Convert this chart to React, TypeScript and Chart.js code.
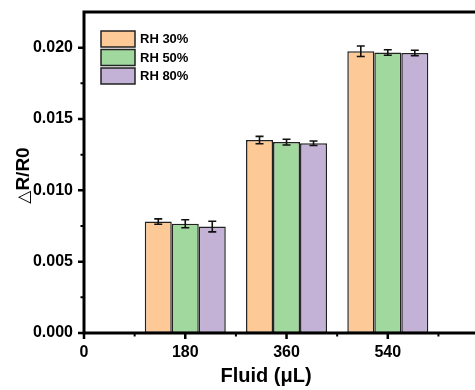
import { useEffect, useRef } from 'react';
import { Chart, registerables } from 'chart.js';

Chart.register(...registerables);

const fluidVolumes = [180, 360, 540];
const seriesLabels = ['RH 30%', 'RH 50%', 'RH 80%'];
const rh30 = [0.00781, 0.01352, 0.01975];
const rh50 = [0.00766, 0.01338, 0.01966];
const rh80 = [0.00746, 0.0133, 0.01963];
const rh30Err = [0.00019, 0.00026, 0.00037];
const rh50Err = [0.00028, 0.0002, 0.00019];
const rh80Err = [0.00037, 0.00016, 0.00019];
const xTicks = [0, 180, 360, 540];
const yTicks = [0, 0.005, 0.01, 0.015, 0.02];
const xTitle = 'Fluid (μL)';
const yTitleSymbol = '△';
const yTitleText = 'R/R0';

const seriesValues = [rh30, rh50, rh80];
const seriesErrors = [rh30Err, rh50Err, rh80Err];
const seriesColors = ['#FCC997', '#A0D89E', '#C3B2D6'];

const FONT = "'Liberation Sans', Arial, sans-serif";

const framePlugin = {
  id: 'frame',
  afterDatasetsDraw(chart: any) {
    const ctx = chart.ctx;
    const ys = chart.scales.y;
    ctx.save();
    ctx.strokeStyle = '#111';
    ctx.lineWidth = 1.6;
    chart.data.datasets.forEach((ds: any, i: number) => {
      const meta = chart.getDatasetMeta(i);
      meta.data.forEach((bar: any, j: number) => {
        const v = seriesValues[i][j];
        const e = seriesErrors[i][j];
        const yt = ys.getPixelForValue(v + e);
        const yb = ys.getPixelForValue(v - e);
        const x = bar.x;
        ctx.beginPath();
        ctx.moveTo(x, yt);
        ctx.lineTo(x, yb);
        ctx.moveTo(x - 4, yt);
        ctx.lineTo(x + 4, yt);
        ctx.moveTo(x - 4, yb);
        ctx.lineTo(x + 4, yb);
        ctx.stroke();
      });
    });
    ctx.restore();
  },
  afterDraw(chart: any) {
    const ctx = chart.ctx;
    const a = chart.chartArea;
    const xs = chart.scales.x;
    const ys = chart.scales.y;
    ctx.save();
    ctx.strokeStyle = '#000';
    ctx.lineCap = 'butt';
    // frame lines
    ctx.lineWidth = 3;
    ctx.beginPath();
    ctx.moveTo(a.left, a.top);
    ctx.lineTo(a.right, a.top);
    ctx.moveTo(a.left, a.top - 1.5);
    ctx.lineTo(a.left, a.bottom + 1.5);
    ctx.moveTo(a.left - 1.5, a.bottom);
    ctx.lineTo(a.right, a.bottom);
    ctx.stroke();
    // major ticks
    ctx.lineWidth = 2.5;
    ctx.beginPath();
    xTicks.forEach((v) => {
      const x = xs.getPixelForValue(v);
      ctx.moveTo(x, a.bottom);
      ctx.lineTo(x, a.bottom + 6);
    });
    yTicks.forEach((v) => {
      const y = ys.getPixelForValue(v);
      ctx.moveTo(a.left, y);
      ctx.lineTo(a.left - 6, y);
    });
    ctx.stroke();
    // minor ticks
    ctx.lineWidth = 2;
    ctx.beginPath();
    const xStep = xTicks[1] - xTicks[0];
    xTicks.forEach((v) => {
      const m = v + xStep / 2;
      if (m < xs.max) {
        const x = xs.getPixelForValue(m);
        ctx.moveTo(x, a.bottom);
        ctx.lineTo(x, a.bottom + 3.5);
      }
    });
    const yStep = yTicks[1] - yTicks[0];
    yTicks.forEach((v) => {
      const m = v + yStep / 2;
      if (m < ys.max - 1e-9) {
        const y = ys.getPixelForValue(m);
        ctx.moveTo(a.left, y);
        ctx.lineTo(a.left - 3.5, y);
      }
    });
    ctx.stroke();
    // x title
    ctx.fillStyle = '#000';
    ctx.textAlign = 'center';
    ctx.textBaseline = 'middle';
    ctx.font = `bold 20px ${FONT}`;
    ctx.fillText(xTitle, 266, 376);
    // y title (rotated)
    ctx.save();
    ctx.translate(29, (a.top + a.bottom) / 2 + 3);
    ctx.rotate(-Math.PI / 2);
    ctx.textAlign = 'left';
    ctx.textBaseline = 'alphabetic';
    const symFont = "normal 17px 'DejaVu Sans', sans-serif";
    const txtFont = `bold 19px ${FONT}`;
    ctx.font = symFont;
    const w1 = ctx.measureText(yTitleSymbol).width;
    ctx.font = txtFont;
    const w2 = ctx.measureText(yTitleText).width;
    const start = -(w1 + w2) / 2;
    ctx.font = symFont;
    ctx.fillText(yTitleSymbol, start, 0);
    ctx.font = txtFont;
    ctx.fillText(yTitleText, start + w1, 0);
    ctx.restore();
    // legend
    const lx = 101;
    let ly = 31;
    ctx.font = `bold 13px ${FONT}`;
    ctx.textAlign = 'left';
    ctx.textBaseline = 'middle';
    chart.data.datasets.forEach((ds: any) => {
      ctx.fillStyle = ds.backgroundColor;
      ctx.fillRect(lx, ly, 34, 16);
      ctx.lineWidth = 1.5;
      ctx.strokeStyle = '#222';
      ctx.strokeRect(lx, ly, 34, 16);
      ctx.fillStyle = '#000';
      ctx.fillText(ds.label, lx + 39, ly + 8.5);
      ly += 18.5;
    });
    ctx.restore();
  },
};

export default function App() {
  const ref = useRef<HTMLCanvasElement | null>(null);
  useEffect(() => {
    if (!ref.current) return;
    const chart = new Chart(ref.current, {
      type: 'bar',
      data: {
        datasets: seriesLabels.map((label, i) => ({
          label,
          data: fluidVolumes.map((x, j) => ({ x, y: seriesValues[i][j] })),
          backgroundColor: seriesColors[i],
          borderColor: '#222',
          borderWidth: 1.5,
          borderSkipped: false,
          categoryPercentage: 0.8,
          barPercentage: 1.0,
        })),
      },
      options: {
        animation: false,
        responsive: false,
        maintainAspectRatio: false,
        layout: { padding: { top: 12, left: 0, right: 0, bottom: 0 } },
        plugins: { legend: { display: false }, tooltip: { enabled: false } },
        scales: {
          x: {
            type: 'linear',
            min: 0,
            max: 695,
            offset: false,
            grid: { display: false, drawTicks: false },
            border: { display: false },
            ticks: {
              color: '#000',
              font: { family: FONT, size: 16, weight: 'bold' },
              padding: 10,
              autoSkip: false,
              maxRotation: 0,
              includeBounds: false,
              callback: (v: any) => String(v),
            },
            afterBuildTicks: (s: any) => {
              s.ticks = xTicks.map((value) => ({ value }));
            },
            afterFit: (s: any) => {
              s.height = 57;
              s.paddingLeft = 0;
              s.paddingRight = 0;
            },
          },
          y: {
            min: 0,
            max: 0.0225,
            grid: { display: false, drawTicks: false },
            border: { display: false },
            ticks: {
              color: '#000',
              font: { family: FONT, size: 16, weight: 'bold' },
              padding: 11,
              autoSkip: false,
              includeBounds: false,
              callback: (v: any) => Number(v).toFixed(3),
            },
            afterBuildTicks: (s: any) => {
              s.ticks = yTicks.map((value) => ({ value }));
            },
            afterFit: (s: any) => {
              s.width = 84;
              s.paddingTop = 0;
              s.paddingBottom = 0;
            },
          },
        },
      },
      plugins: [framePlugin],
    } as any);
    return () => chart.destroy();
  }, []);
  return (
    <div style={{ position: 'fixed', left: 0, top: 0, width: 475, height: 390, background: '#fff' }}>
      <canvas ref={ref} width={475} height={390} style={{ display: 'block' }} />
    </div>
  );
}
